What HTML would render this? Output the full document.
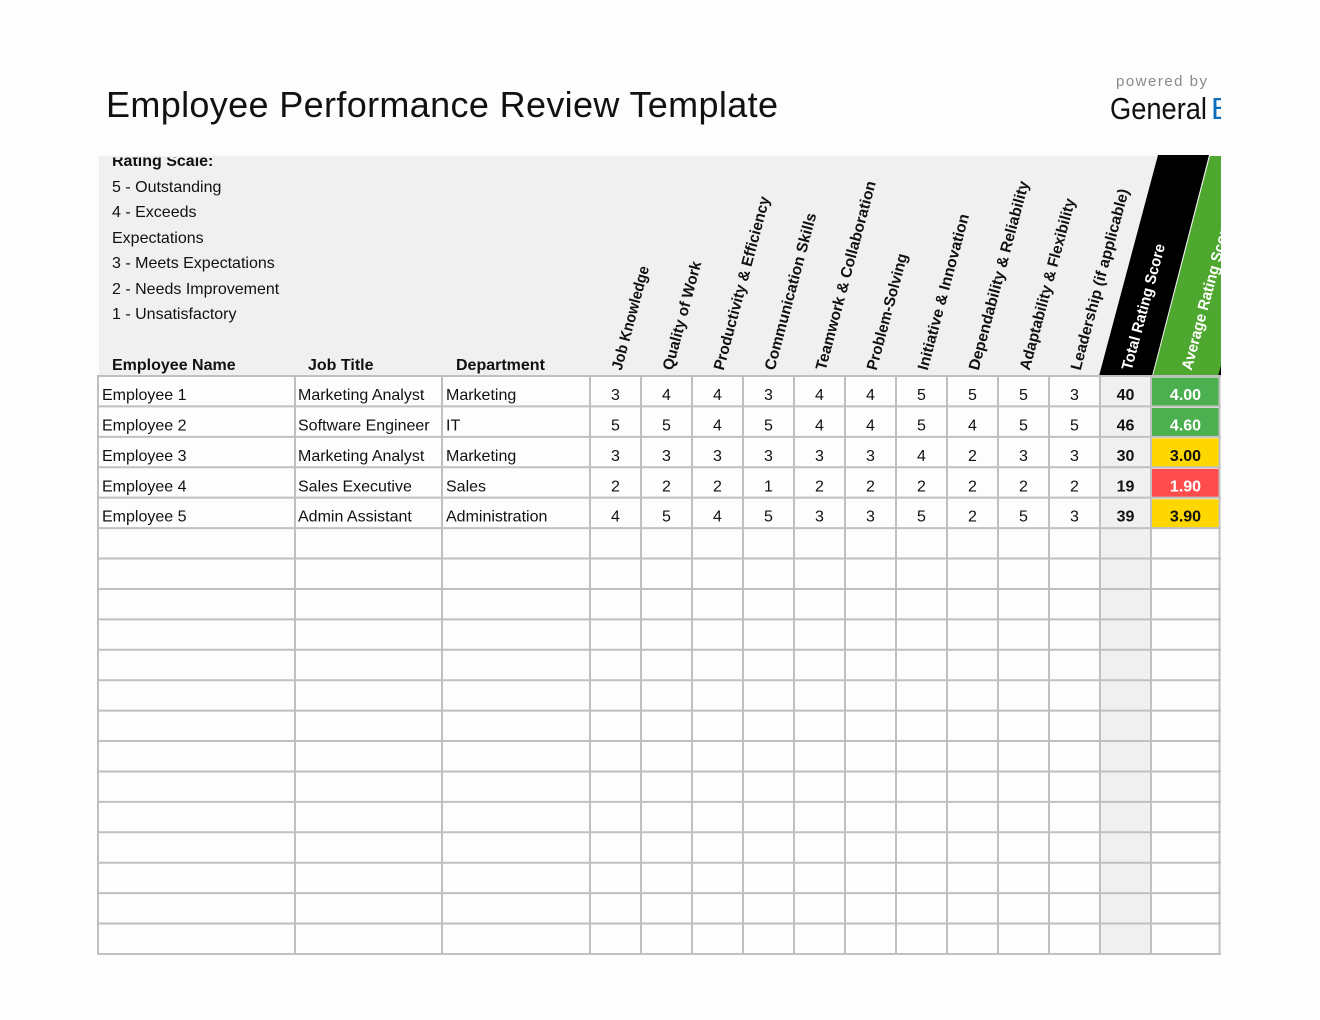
<!DOCTYPE html>
<html><head><meta charset="utf-8"><style>
html,body{margin:0;padding:0;background:#fdfdfd;}
svg{display:block;}
text{font-family:"Liberation Sans",Arial,sans-serif;}
</style></head><body>
<svg width="1320" height="1020" viewBox="0 0 1320 1020" xmlns="http://www.w3.org/2000/svg">
<defs>
<clipPath id="page"><rect x="0" y="0" width="1221" height="1020"/></clipPath>
<clipPath id="hdr"><rect x="99" y="157.5" width="1122" height="218"/></clipPath>
</defs>
<rect x="0" y="0" width="1320" height="1020" fill="#fdfdfd"/>
<g clip-path="url(#page)">
<!-- Title -->
<text x="106" y="117" font-size="36" fill="#111" textLength="672" lengthAdjust="spacing">Employee Performance Review Template</text>
<text x="1116" y="86" font-size="15" fill="#8a8a8a" textLength="91" lengthAdjust="spacing">powered by</text>
<text x="1110" y="119" font-size="31" fill="#111" textLength="97" lengthAdjust="spacingAndGlyphs">General</text>
<text x="1211" y="119" font-size="31" fill="#0a6ebd">B</text>

<!-- Header area -->
<rect x="99" y="156" width="1122" height="220" fill="#f0f0f0"/>
<polygon points="1158,155 1209,155 1152,376 1099,376" fill="#000"/>
<polygon points="1210,156 1221,156 1221,376 1153,376" fill="#4ea72e"/>
<polygon points="1218,376 1222,376 1222,362" fill="#000"/>
<g clip-path="url(#hdr)" fill="#111">
<text x="112" y="166" font-size="16" font-weight="bold">Rating Scale:</text>
</g>
<g font-size="16" fill="#111">
<text x="112" y="192">5 - Outstanding</text>
<text x="112" y="217">4 - Exceeds</text>
<text x="112" y="243">Expectations</text>
<text x="112" y="268">3 - Meets Expectations</text>
<text x="112" y="294">2 - Needs Improvement</text>
<text x="112" y="319">1 - Unsatisfactory</text>
</g>
<g font-size="16" font-weight="bold" fill="#111">
<text x="112" y="370">Employee Name</text>
<text x="308" y="370">Job Title</text>
<text x="456" y="370">Department</text>
</g>
<g font-size="15.5" font-weight="bold" fill="#111">
<text transform="translate(621.5,371) rotate(-75)" textLength="107" lengthAdjust="spacingAndGlyphs">Job Knowledge</text>
<text transform="translate(672.5,371) rotate(-75)" textLength="112" lengthAdjust="spacingAndGlyphs">Quality of Work</text>
<text transform="translate(723.5,371) rotate(-75)" textLength="179" lengthAdjust="spacingAndGlyphs">Productivity &amp; Efficiency</text>
<text transform="translate(774.5,371) rotate(-75)" textLength="162" lengthAdjust="spacingAndGlyphs">Communication Skills</text>
<text transform="translate(825.5,371) rotate(-75)" textLength="195" lengthAdjust="spacingAndGlyphs">Teamwork &amp; Collaboration</text>
<text transform="translate(876.5,371) rotate(-75)" textLength="120" lengthAdjust="spacingAndGlyphs">Problem-Solving</text>
<text transform="translate(927.5,371) rotate(-75)" textLength="161" lengthAdjust="spacingAndGlyphs">Initiative &amp; Innovation</text>
<text transform="translate(978.5,371) rotate(-75)" textLength="195" lengthAdjust="spacingAndGlyphs">Dependability &amp; Reliability</text>
<text transform="translate(1029.5,371) rotate(-75)" textLength="177" lengthAdjust="spacingAndGlyphs">Adaptability &amp; Flexibility</text>
<text transform="translate(1080.5,371) rotate(-75)" textLength="187" lengthAdjust="spacingAndGlyphs">Leadership (if applicable)</text>
<text transform="translate(1131.5,371) rotate(-75)" fill="#fff" textLength="130" lengthAdjust="spacingAndGlyphs">Total Rating Score</text>
<text transform="translate(1191.5,371) rotate(-75)" fill="#fff" textLength="153" lengthAdjust="spacingAndGlyphs">Average Rating Score</text>
</g>

<!-- Body fills -->
<rect x="99" y="376" width="1121" height="578" fill="#fdfdfd"/>
<rect x="1100" y="376" width="51" height="578" fill="#f0f0f0"/>
<rect x="1152" y="377.5" width="67" height="28.4" fill="#4caf50"/>
<rect x="1152" y="407.9" width="67" height="28.4" fill="#4caf50"/>
<rect x="1152" y="438.3" width="67" height="28.4" fill="#ffd700"/>
<rect x="1152" y="468.8" width="67" height="28.4" fill="#ff4d4d"/>
<rect x="1152" y="499.2" width="67" height="28.4" fill="#ffd700"/>

<!-- Grid -->
<g stroke="#c0c0c0" stroke-width="2">
<line x1="97" y1="376" x2="1221" y2="376"/>
<line x1="97" y1="406.42" x2="1221" y2="406.42"/>
<line x1="97" y1="436.84" x2="1221" y2="436.84"/>
<line x1="97" y1="467.26" x2="1221" y2="467.26"/>
<line x1="97" y1="497.68" x2="1221" y2="497.68"/>
<line x1="97" y1="528.1" x2="1221" y2="528.1"/>
<line x1="97" y1="558.52" x2="1221" y2="558.52"/>
<line x1="97" y1="588.94" x2="1221" y2="588.94"/>
<line x1="97" y1="619.36" x2="1221" y2="619.36"/>
<line x1="97" y1="649.78" x2="1221" y2="649.78"/>
<line x1="97" y1="680.2" x2="1221" y2="680.2"/>
<line x1="97" y1="710.62" x2="1221" y2="710.62"/>
<line x1="97" y1="741.04" x2="1221" y2="741.04"/>
<line x1="97" y1="771.46" x2="1221" y2="771.46"/>
<line x1="97" y1="801.88" x2="1221" y2="801.88"/>
<line x1="97" y1="832.3" x2="1221" y2="832.3"/>
<line x1="97" y1="862.72" x2="1221" y2="862.72"/>
<line x1="97" y1="893.14" x2="1221" y2="893.14"/>
<line x1="97" y1="923.56" x2="1221" y2="923.56"/>
<line x1="97" y1="954" x2="1221" y2="954"/>
<line x1="98" y1="375" x2="98" y2="955"/>
<line x1="295" y1="375" x2="295" y2="955"/>
<line x1="442" y1="375" x2="442" y2="955"/>
<line x1="590" y1="375" x2="590" y2="955"/>
<line x1="641" y1="375" x2="641" y2="955"/>
<line x1="692" y1="375" x2="692" y2="955"/>
<line x1="743" y1="375" x2="743" y2="955"/>
<line x1="794" y1="375" x2="794" y2="955"/>
<line x1="845" y1="375" x2="845" y2="955"/>
<line x1="896" y1="375" x2="896" y2="955"/>
<line x1="947" y1="375" x2="947" y2="955"/>
<line x1="998" y1="375" x2="998" y2="955"/>
<line x1="1049" y1="375" x2="1049" y2="955"/>
<line x1="1100" y1="375" x2="1100" y2="955"/>
<line x1="1151" y1="375" x2="1151" y2="955"/>
<line x1="1219.5" y1="375" x2="1219.5" y2="955"/>
</g>

<!-- Data text -->
<g font-size="16" fill="#111">
<text x="102" y="400">Employee 1</text><text x="298" y="400">Marketing Analyst</text><text x="446" y="400">Marketing</text>
<text x="102" y="430.4">Employee 2</text><text x="298" y="430.4">Software Engineer</text><text x="446" y="430.4">IT</text>
<text x="102" y="460.8">Employee 3</text><text x="298" y="460.8">Marketing Analyst</text><text x="446" y="460.8">Marketing</text>
<text x="102" y="491.3">Employee 4</text><text x="298" y="491.3">Sales Executive</text><text x="446" y="491.3">Sales</text>
<text x="102" y="521.7">Employee 5</text><text x="298" y="521.7">Admin Assistant</text><text x="446" y="521.7">Administration</text>
</g>
<g font-size="16" fill="#111" text-anchor="middle">
<text x="615.5" y="400">3</text><text x="666.5" y="400">4</text><text x="717.5" y="400">4</text><text x="768.5" y="400">3</text><text x="819.5" y="400">4</text><text x="870.5" y="400">4</text><text x="921.5" y="400">5</text><text x="972.5" y="400">5</text><text x="1023.5" y="400">5</text><text x="1074.5" y="400">3</text>
<text x="615.5" y="430.4">5</text><text x="666.5" y="430.4">5</text><text x="717.5" y="430.4">4</text><text x="768.5" y="430.4">5</text><text x="819.5" y="430.4">4</text><text x="870.5" y="430.4">4</text><text x="921.5" y="430.4">5</text><text x="972.5" y="430.4">4</text><text x="1023.5" y="430.4">5</text><text x="1074.5" y="430.4">5</text>
<text x="615.5" y="460.8">3</text><text x="666.5" y="460.8">3</text><text x="717.5" y="460.8">3</text><text x="768.5" y="460.8">3</text><text x="819.5" y="460.8">3</text><text x="870.5" y="460.8">3</text><text x="921.5" y="460.8">4</text><text x="972.5" y="460.8">2</text><text x="1023.5" y="460.8">3</text><text x="1074.5" y="460.8">3</text>
<text x="615.5" y="491.3">2</text><text x="666.5" y="491.3">2</text><text x="717.5" y="491.3">2</text><text x="768.5" y="491.3">1</text><text x="819.5" y="491.3">2</text><text x="870.5" y="491.3">2</text><text x="921.5" y="491.3">2</text><text x="972.5" y="491.3">2</text><text x="1023.5" y="491.3">2</text><text x="1074.5" y="491.3">2</text>
<text x="615.5" y="521.7">4</text><text x="666.5" y="521.7">5</text><text x="717.5" y="521.7">4</text><text x="768.5" y="521.7">5</text><text x="819.5" y="521.7">3</text><text x="870.5" y="521.7">3</text><text x="921.5" y="521.7">5</text><text x="972.5" y="521.7">2</text><text x="1023.5" y="521.7">5</text><text x="1074.5" y="521.7">3</text>
</g>
<g font-size="16" font-weight="bold" text-anchor="middle">
<text x="1125.5" y="400" fill="#111">40</text>
<text x="1125.5" y="430.4" fill="#111">46</text>
<text x="1125.5" y="460.8" fill="#111">30</text>
<text x="1125.5" y="491.3" fill="#111">19</text>
<text x="1125.5" y="521.7" fill="#111">39</text>
<text x="1185.5" y="400" fill="#fff">4.00</text>
<text x="1185.5" y="430.4" fill="#fff">4.60</text>
<text x="1185.5" y="460.8" fill="#111">3.00</text>
<text x="1185.5" y="491.3" fill="#fff">1.90</text>
<text x="1185.5" y="521.7" fill="#111">3.90</text>
</g>
</g>
</svg>
</body></html>
